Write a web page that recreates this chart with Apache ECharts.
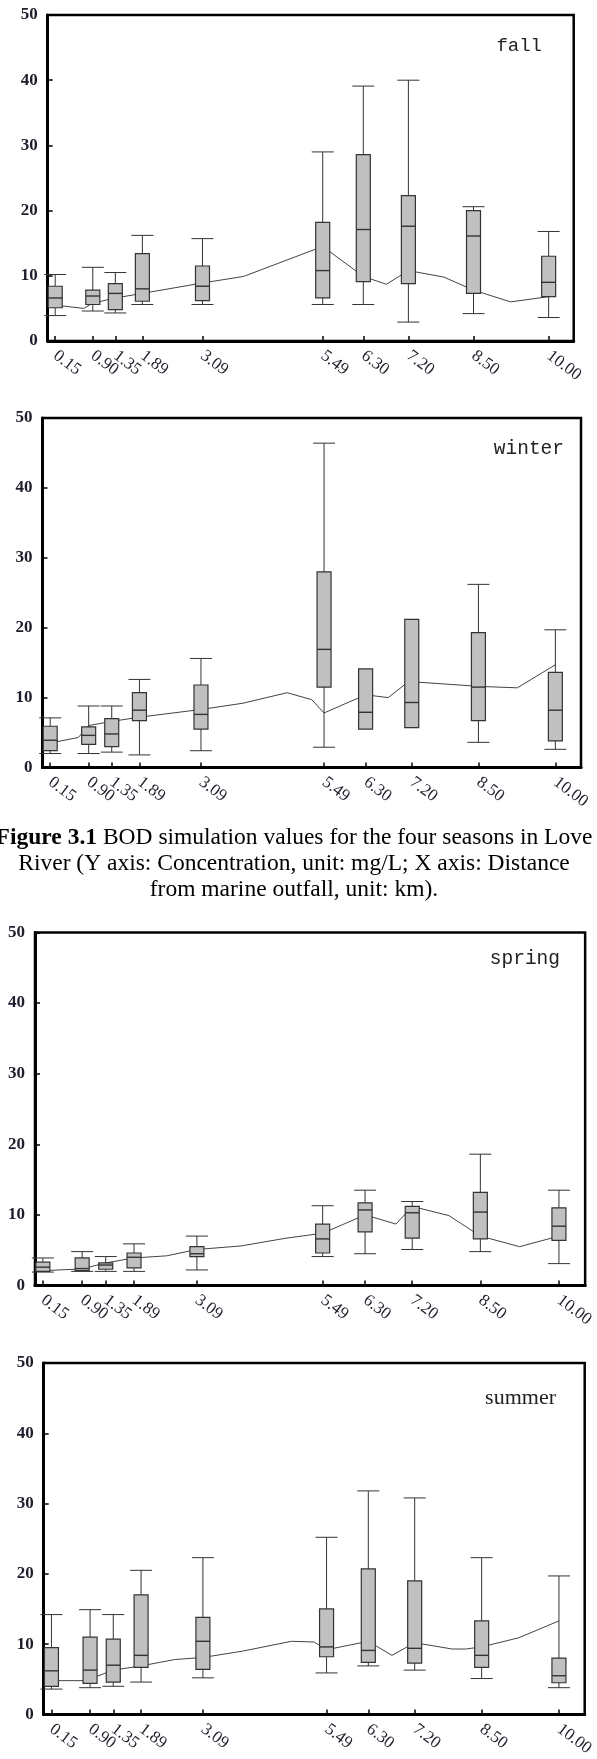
<!DOCTYPE html>
<html>
<head>
<meta charset="utf-8">
<style>
html, body { margin: 0; padding: 0; background: #fff; }
#main { width: 597px; height: 1759px; }
</style>
<script src="https://cdn.jsdelivr.net/npm/echarts@6.0.0/dist/echarts.min.js"></script>
</head>
<body>
<div id="main"></div>
<script>
var myChart = echarts.init(document.getElementById('main'));

// distance from marine outfall (km)
var stations = [0.15, 0.90, 1.35, 1.89, 3.09, 5.49, 6.30, 7.20, 8.50, 10.00];

// observed BOD, per station: [min, q1, median, q3, max]
var fallBox = [
    [3.9, 5.1, 6.6, 8.4, 10.2],
    [4.6, 5.6, 6.9, 7.8, 11.3],
    [4.3, 4.8, 7.3, 8.8, 10.5],
    [5.6, 6.1, 8.0, 13.4, 16.2],
    [5.6, 6.2, 8.4, 11.5, 15.7],
    [5.6, 6.6, 10.8, 18.2, 29.0],
    [5.6, 9.1, 17.1, 28.6, 39.1],
    [2.9, 8.8, 17.6, 22.3, 40.0],
    [4.2, 7.3, 16.1, 20.0, 20.6],
    [3.6, 6.8, 9.0, 13.0, 16.8]
];
var winterBox = [
    [2.0, 2.4, 3.9, 5.9, 7.1],
    [2.0, 3.3, 4.6, 5.8, 8.8],
    [2.2, 3.0, 4.8, 7.0, 8.8],
    [1.8, 6.7, 8.2, 10.7, 12.6],
    [2.4, 5.5, 7.6, 11.8, 15.6],
    [2.9, 11.5, 16.9, 28.0, 46.4],
    [5.5, 5.5, 7.9, 14.1, 14.1],
    [5.7, 5.7, 9.3, 21.2, 21.2],
    [3.6, 6.7, 11.5, 19.3, 26.2],
    [2.6, 3.8, 8.2, 13.6, 19.7]
];
var springBox = [
    [1.9, 2.0, 2.6, 3.3, 3.9],
    [2.0, 2.1, 2.4, 3.9, 4.8],
    [2.0, 2.3, 2.9, 3.2, 4.1],
    [2.0, 2.5, 4.0, 4.6, 5.9],
    [2.2, 4.1, 4.5, 5.5, 7.0],
    [4.1, 4.6, 6.6, 8.7, 11.3],
    [4.5, 7.6, 10.7, 11.7, 13.5],
    [5.1, 6.7, 10.3, 11.2, 11.9],
    [4.8, 6.6, 10.4, 13.2, 18.6],
    [3.1, 6.4, 8.4, 11.0, 13.5]
];
var summerBox = [
    [3.6, 4.0, 6.2, 9.5, 14.2],
    [3.8, 4.4, 6.3, 11.0, 14.9],
    [4.0, 4.6, 7.0, 10.7, 14.2],
    [4.6, 6.7, 8.4, 17.0, 20.5],
    [5.2, 6.4, 10.4, 13.8, 22.3],
    [5.9, 8.2, 9.6, 15.0, 25.2],
    [6.9, 7.4, 9.1, 20.7, 31.8],
    [6.3, 7.3, 9.4, 19.0, 30.8],
    [5.1, 6.7, 8.4, 13.3, 22.3],
    [3.8, 4.5, 5.5, 8.0, 19.7]
];

// simulated BOD along the river: [km, mg/L]
var fallSim = [
    [0.15, 5.5], [0.72, 5.0], [0.90, 5.8], [1.35, 6.6], [1.89, 7.3],
    [3.09, 8.9], [3.91, 9.9], [5.49, 14.5], [6.30, 9.9], [6.76, 8.7],
    [7.20, 10.8], [7.91, 9.8], [8.50, 7.8], [9.24, 6.0], [10.00, 6.8]
];
var winterSim = [
    [0.15, 3.5], [0.70, 4.3], [0.90, 6.0], [1.35, 6.6], [1.89, 7.2],
    [3.09, 8.3], [3.91, 9.2], [4.77, 10.7], [5.25, 9.7], [5.49, 7.8],
    [6.30, 10.4], [6.74, 10.0], [7.14, 12.3], [8.52, 11.6], [9.26, 11.4],
    [10.00, 14.7]
];
var springSim = [
    [0.15, 2.1], [0.90, 2.35], [1.35, 3.2], [1.89, 3.9], [2.51, 4.2],
    [3.09, 5.1], [3.93, 5.6], [4.79, 6.7], [5.49, 7.4], [6.30, 10.0],
    [6.89, 8.7], [7.20, 11.2], [7.90, 9.9], [8.50, 7.0], [9.25, 5.5],
    [10.00, 7.0]
];
var summerSim = [
    [0.04, 4.8], [0.81, 4.8], [1.35, 6.3], [1.89, 6.9], [2.54, 7.8],
    [3.09, 8.1], [3.86, 9.0], [4.81, 10.4], [5.25, 10.3], [5.49, 9.2],
    [6.30, 10.4], [6.76, 8.4], [7.20, 10.2], [7.93, 9.3], [8.19, 9.3],
    [8.50, 9.6], [9.22, 10.9], [10.00, 13.3]
];

var captionLines = [
    '{b|Figure 3.1} BOD simulation values for the four seasons in Love',
    'River (Y axis: Concentration, unit: mg/L; X axis: Distance',
    'from marine outfall, unit: km).'
];

var panels = [
    { name: 'fall',   box: fallBox,   sim: fallSim,   left: 47.7, top: 15,    width: 526,   height: 326,
      tx: 542, ty: 45.5, font: 'Liberation Mono', fs: 19 },
    { name: 'winter', box: winterBox, sim: winterSim, left: 42.5, top: 418,   width: 538.5, height: 349.5,
      tx: 564, ty: 449, font: 'Liberation Mono', fs: 19.5 },
    { name: 'spring', box: springBox, sim: springSim, left: 35,   top: 932.5, width: 557.5, height: 353,
      tx: 560, ty: 959, font: 'Liberation Mono', fs: 19.5 },
    { name: 'summer', box: summerBox, sim: summerSim, left: 43.7, top: 1363,  width: 544.5, height: 352,
      tx: 556, ty: 1398, font: 'Liberation Serif', fs: 22 }
];

function renderBox(params, api) {
    var x = api.value(0);
    var pMin = api.coord([x, api.value(1)]);
    var pQ1 = api.coord([x, api.value(2)]);
    var pMed = api.coord([x, api.value(3)]);
    var pQ3 = api.coord([x, api.value(4)]);
    var pMax = api.coord([x, api.value(5)]);
    var cx = pMed[0], bw = 7, cw = 11;
    var ls = { stroke: '#333', lineWidth: 1 };
    var children = [];
    if (pQ3[1] - pMax[1] > 0.5) {
        children.push({ type: 'line', shape: { x1: cx, y1: pMax[1], x2: cx, y2: pQ3[1] }, style: ls });
        children.push({ type: 'line', shape: { x1: cx - cw, y1: pMax[1], x2: cx + cw, y2: pMax[1] }, style: ls });
    }
    if (pMin[1] - pQ1[1] > 0.5) {
        children.push({ type: 'line', shape: { x1: cx, y1: pQ1[1], x2: cx, y2: pMin[1] }, style: ls });
        children.push({ type: 'line', shape: { x1: cx - cw, y1: pMin[1], x2: cx + cw, y2: pMin[1] }, style: ls });
    }
    children.push({
        type: 'rect',
        shape: { x: cx - bw, y: pQ3[1], width: bw * 2, height: pQ1[1] - pQ3[1] },
        style: { fill: '#c0c0c0', stroke: '#333', lineWidth: 1.2 }
    });
    children.push({ type: 'line', shape: { x1: cx - bw, y1: pMed[1], x2: cx + bw, y2: pMed[1] },
        style: { stroke: '#333', lineWidth: 1.4 } });
    return { type: 'group', children: children };
}

var grids = [], xAxes = [], yAxes = [], series = [], graphics = [];

panels.forEach(function (p, i) {
    grids.push({
        left: p.left, top: p.top, width: p.width, height: p.height,
        show: true, borderColor: '#000', borderWidth: 2.5, backgroundColor: 'transparent'
    });
    xAxes.push({
        gridIndex: i, type: 'value', min: 0, max: 10.5,
        splitLine: { show: false },
        axisLine: { show: true, lineStyle: { color: '#000', width: 3 } },
        axisTick: { show: true, inside: true, length: 5, customValues: stations,
            lineStyle: { color: '#000', width: 1.5 } },
        axisLabel: {
            customValues: stations, rotate: -37, margin: 13,
            formatter: function (v) { return v.toFixed(2); },
            fontFamily: 'Liberation Serif', fontSize: 17, color: '#1d1d2b'
        }
    });
    yAxes.push({
        gridIndex: i, type: 'value', min: 0, max: 50, interval: 10,
        splitLine: { show: false },
        axisLine: { show: true, lineStyle: { color: '#000', width: 3 } },
        axisTick: { show: true, inside: true, length: 5, lineStyle: { color: '#000', width: 1.5 } },
        axisLabel: { margin: 10, fontFamily: 'Liberation Serif', fontSize: 17, fontWeight: 'bold', color: '#1d1d2b' }
    });
    series.push({
        type: 'line', xAxisIndex: i, yAxisIndex: i, data: p.sim,
        symbol: 'none', lineStyle: { color: '#444', width: 1 }, z: 2, animation: false
    });
    series.push({
        type: 'custom', xAxisIndex: i, yAxisIndex: i, clip: false, z: 3, animation: false,
        renderItem: renderBox,
        encode: { x: 0, y: [1, 2, 3, 4, 5] },
        data: p.box.map(function (b, k) { return [stations[k]].concat(b); })
    });
    graphics.push({
        type: 'text', x: p.tx, y: p.ty,
        style: { text: p.name, textAlign: 'right', textVerticalAlign: 'middle',
            font: p.fs + 'px "' + p.font + '"', fill: '#222' }
    });
});

captionLines.forEach(function (t, k) {
    graphics.push({
        type: 'text', x: 294, y: 838 + k * 26,
        style: {
            text: t, textAlign: 'center', textVerticalAlign: 'middle',
            fontFamily: 'Liberation Serif', fontSize: 23.5, fill: '#000',
            rich: { b: { fontFamily: 'Liberation Serif', fontSize: 23.5, fontWeight: 'bold', fill: '#000' } }
        }
    });
});

var option = {
    backgroundColor: '#fff',
    animation: false,
    grid: grids,
    xAxis: xAxes,
    yAxis: yAxes,
    series: series,
    graphic: graphics
};

myChart.setOption(option);
</script>
</body>
</html>
